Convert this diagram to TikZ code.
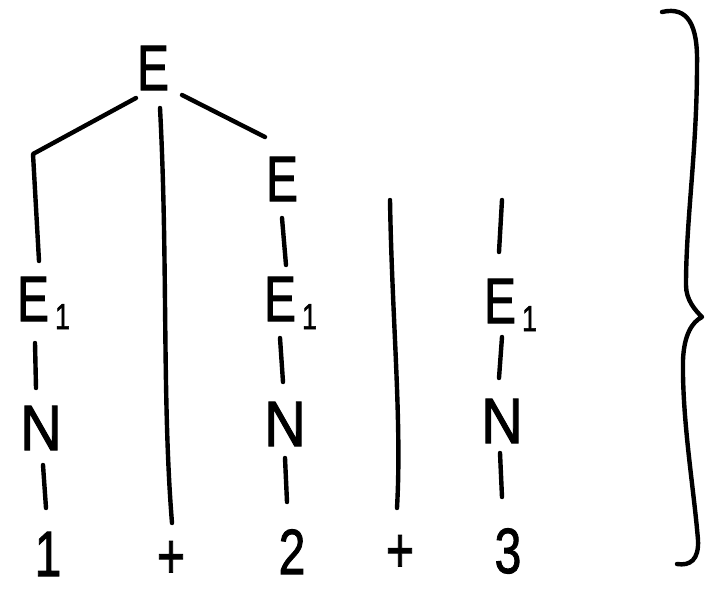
\documentclass[tikz,border=0pt]{standalone}
\usepackage{fontspec}
\setmainfont{Liberation Sans}
% heavier pen for the hand-lettered symbols
\newfontfamily\hand{Liberation Sans}[FakeBold=1.6]
% narrow, hand-lettered look for the tree symbols
\newcommand{\hw}[1]{\scalebox{0.75}[1]{#1}}
\newcommand{\hwN}{\scalebox{0.9}[1]{N}}
\newcommand{\subone}{\rlap{\kern6pt\raisebox{-8pt}{\hw{\fontsize{36}{36}\selectfont 1}}}}
\tikzset{
  sym/.style={inner sep=0pt, outer sep=0pt, text height=46pt, text depth=0pt,
              font=\hand\fontsize{64}{64}\selectfont},
  pen/.style={line width=4.4pt, line cap=round, line join=round},
}
\begin{document}
\begin{tikzpicture}[x=1pt,y=-1pt]
\useasboundingbox (0,0) rectangle (710,592);

% tree symbols
\node[sym] (top) at (153,67)  {\hw{E}};
\node[sym] (eb)  at (282,178) {\hw{E}};
\node[sym] (e1a) at (33,298)  {\hw{E}\subone};
\node[sym] (e1b) at (280,298) {\hw{E}\subone};
\node[sym] (e1c) at (500,300) {\hw{E}\subone};
\node[sym] (na)  at (41,427)  {\hwN};
\node[sym] (nb)  at (285,423) {\hwN};
\node[sym] (nc)  at (502,420) {\hwN};
\node[sym] (d1)  at (48,553)  {\hw{1}};
\node[sym] (pa)  at (171,555) {\hw{+}};
\node[sym] (d2)  at (292,551) {\hw{2}};
\node[sym] (pb)  at (400,549) {\hw{+}};
\node[sym] (d3)  at (508,550) {\hw{3}};

% bend of the left branch and the open ends on the right
\coordinate (c1) at (33,154);
\coordinate (t1) at (390,200);
\coordinate (t2) at (502,200);

% branches
\draw[pen] ([shift={(-1,8)}]top.south west) -- (c1) -- ([shift={(6,-14)}]e1a.north);
\draw[pen] ([shift={(7,18)}]top.south) .. controls (168,260) and (162,400) .. ([shift={(1,-9)}]pa.north);
\draw[pen] ([shift={(13,5)}]top.south east) -- ([shift={(-17,-18)}]eb.north);
\draw[pen] ([shift={(0,17)}]eb.south) -- ([shift={(6,-10)}]e1b.north);
\draw[pen] ([shift={(2,22)}]e1a.south) -- ([shift={(-5,-16)}]na.north);
\draw[pen] ([shift={(2,15)}]na.south) -- ([shift={(-2,-22)}]d1.north);
\draw[pen] ([shift={(0,17)}]e1b.south) -- ([shift={(-2,-18)}]nb.north);
\draw[pen] ([shift={(0,12)}]nb.south) -- ([shift={(-5,-26)}]d2.north);
\draw[pen] (t1) .. controls (392,320) and (402,420) .. ([shift={(-3,-18)}]pb.north);
\draw[pen] (t2) -- ([shift={(-1,-25)}]e1c.north);
\draw[pen] ([shift={(2,14)}]e1c.south) -- ([shift={(-3,-19)}]nc.north);
\draw[pen] ([shift={(-2,10)}]nc.south) -- ([shift={(-6,-30)}]d3.north);

% closing brace
\draw[pen] (662,12) .. controls (688,6) and (698,25) .. (697,65)
  .. controls (697,150) and (686,220) .. (686,285)
  .. controls (686,300) and (695,310) .. (702,317)
  .. controls (692,322) and (684,335) .. (683,360)
  .. controls (682,420) and (694,490) .. (698,540)
  .. controls (699,560) and (690,566) .. (677,564);
\end{tikzpicture}
\end{document}
